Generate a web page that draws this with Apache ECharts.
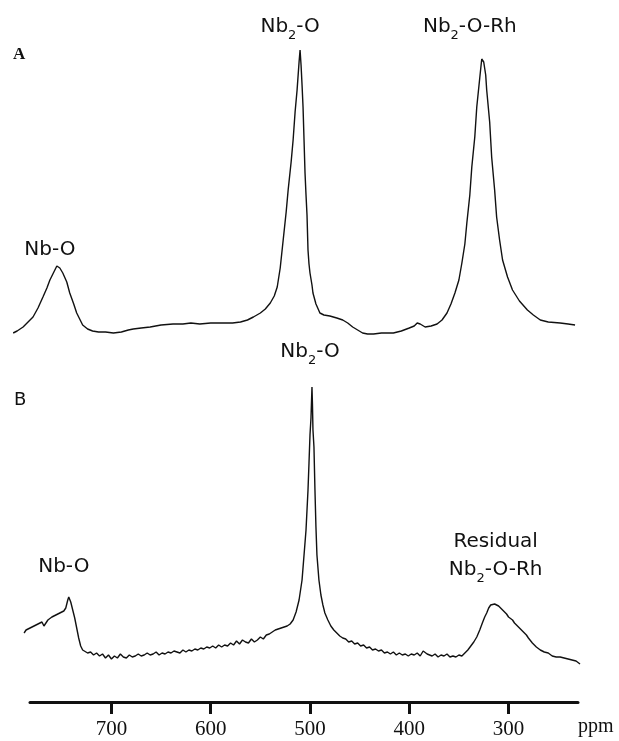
<!DOCTYPE html>
<html>
<head>
<meta charset="utf-8">
<style>
html,body{margin:0;padding:0;background:#fff;}
#main{width:619px;height:741px;}
</style>
</head>
<body>
<div id="main"></div>
<script src="https://cdn.jsdelivr.net/npm/echarts@6/dist/echarts.min.js"></script>
<script>
// ppm scale (reversed, high ppm on the left)
var ppm_min = 230;
var ppm_max = 782;
// the spectra run a little past the axis on both sides
var spec_min = 226;
var spec_max = 804.2;
var ppm_ticks = [300, 400, 500, 600, 700];

// spectrum A: [ppm, intensity]
var spec_A = [
    [799,7],[795,9],[789,13],[784,18],[779,23],[774,32],[769,43],[765,52],[762,60],[758,68],[755,74],[752,72],
    [749,67],[745,58],[742,47],[738,36],[735,27],[731,19],[729,15],[724,11],[719,9],[713,8],[706,8],[698,7],
    [690,8],[683,10],[678,11],[670,12],[661,13],[650,15],[638,16],[628,16],[620,17],[611,16],[600,17],[590,17],
    [578,17],[570,18],[563,20],[557,23],[550,27],[545,31],[540,37],[536,44],[533,53],[530,72],[527,100],
    [524,128],[522,150],[519,178],[517,200],[515,228],[513,250],[511,278],[510,290],[509,275],[508,255],
    [507,233],[506,200],[505,167],[504,145],[503,125],[502,90],[501,76],[500,67],[498,55],[497,47],[494,36],
    [490,27],[486,25],[480,24],[473,22],[467,20],[462,17],[457,13],[452,10],[447,7],[442,6],[436,6],[428,7],
    [416,7],[408,9],[400,12],[395,14],[392,17],[389,16],[384,13],[378,14],[372,16],[367,20],[362,27],
    [358,36],[354,47],[350,60],[347,77],[344,96],[342,117],[339,145],[337,173],[334,203],[332,233],[329,262],
    [327,281],[325,278],[323,265],[322,250],[319,218],[317,183],[314,150],[312,123],[309,100],[306,80],
    [301,63],[296,50],[289,39],[281,30],[275,25],[268,20],[260,18],[248,17],[240,16],[233,15]
];

// spectrum B: [ppm, intensity]
var spec_B = [
    [788,47],[786,50],[784,49],[782,52],[780,51],[778,54],[776,52],[774,56],[772,55],[770,58],[768,54],
    [766,57],[764,60],[762,58],[760,63],[758,61],[756,65],[754,63],[752,67],[750,65],[748,69],[746,72],
    [744,80],[743,83],[741,78],[739,70],[737,62],[735,52],[733,42],[731,34],[729,30],
    [727,29],[724,27],[721,28],[718,25],[715,27],[712,24],[709,26],[706,22],[703,25],[700,21],[697,24],
    [694,22],[691,26],[688,23],[685,22],[682,25],[679,23],[676,24],[673,26],[670,24],[667,25],[664,27],
    [661,25],[658,26],[655,28],[652,25],[649,27],[646,26],[643,28],[640,27],[637,29],[634,28],[631,27],
    [628,30],[625,28],[622,30],[619,29],[616,31],[613,30],[610,32],[607,31],[604,33],[601,32],[598,34],
    [595,32],[592,35],[589,33],[586,35],[583,34],[580,37],[577,35],[574,39],[571,36],[568,40],[565,38],
    [562,37],[559,41],[556,38],[553,40],[550,43],[547,41],[544,45],[541,46],[538,48],[535,50],[532,51],
    [529,52],[526,53],[523,54],[520,56],
    [517,60],[514,68],[511,80],[508,100],[506,125],[504,150],[502,190],[501,217],[500,245],[499,262],
    [498,293],[497.5,275],[497,250],[496,233],[495,190],[494,153],[493,125],[491,100],[489,85],[487,75],
    [485,67],[482,60],[479,54],[476,50],[473,47],[470,44],[467,42],[464,41],[461,38],[458,39],[455,36],
    [452,37],[449,34],[446,35],[443,32],[440,33],[437,30],[434,31],[431,29],[428,30],[425,27],[422,28],
    [419,26],[416,28],[413,25],[410,27],[407,25],[404,26],[401,24],[398,26],[395,25],[392,27],[389,24],
    [386,29],[384,30],[382,26],[380,27],[377,24],[374,26],[371,23],[368,25],[365,24],[362,26],[359,23],
    [356,24],[353,23],[350,25],[347,24],[344,27],[341,30],
    [338,34],[335,38],[332,43],[329,50],[326,58],[324,63],[322,67],[320,72],[318,75],[316,77],[314,76],
    [312,78],[310,74],[308,73],[306,70],[304,68],[302,66],[300,63],[298,62],[296,60],[294,57],[292,55],
    [290,53],[288,52],[286,49],[284,47],[282,45],[280,42],[278,40],[276,37],[274,36],[272,33],[270,31],
    [268,30],[266,29],[264,28],[262,26],[260,27],[258,25],[256,24],[254,25],[252,23],[250,22],[248,23],
    [246,21],[244,22],[242,20],[240,21],[238,19],[236,20],[234,18],[232,19],[230,17],[228,16]
];

// peak labels: [ppm, height, text]
var labels_A = [
    [793, 285, '{pa|A}'],
    [762, 90, '{n|Nb-O}'],
    [520, 313, '{n|Nb}{s|2}{n|-O}'],
    [339, 313, '{n|Nb}{s|2}{n|-O-Rh}']
];
var labels_B = [
    [792, 280, '{pb|B}'],
    [748, 113, '{n|Nb-O}'],
    [500, 328, '{n|Nb}{s|2}{n|-O}'],
    [313, 138, '{n|Residual}'],
    [313, 110, '{n|Nb}{s|2}{n|-O-Rh}'],
    [212, -47, '{u|ppm}']
];

var chart = echarts.init(document.getElementById('main'));

var rich = {
    n: {fontFamily: 'DejaVu Sans', fontSize: 20, color: '#111', lineHeight: 30},
    s: {fontFamily: 'DejaVu Sans', fontSize: 13, color: '#111', lineHeight: 14, verticalAlign: 'bottom'},
    pa: {fontFamily: 'Liberation Serif', fontSize: 17, fontWeight: 'bold', color: '#111'},
    pb: {fontFamily: 'DejaVu Sans', fontSize: 18, color: '#111'},
    u: {fontFamily: 'Liberation Serif', fontSize: 20, color: '#111'}
};

function hiddenX(idx) {
    return {gridIndex: idx, type: 'value', min: spec_min, max: spec_max, inverse: true, show: false};
}
function hiddenY(idx) {
    return {gridIndex: idx, type: 'value', min: 0, max: 340, show: false};
}
function labelSeries(idx, data) {
    return {
        type: 'scatter', xAxisIndex: idx, yAxisIndex: idx, data: data,
        symbolSize: 0, clip: false, silent: true,
        itemStyle: {opacity: 1},
        label: {
            show: true, position: 'inside', color: '#111', textBorderWidth: 0, opacity: 1,
            formatter: function (p) { return p.data[2]; },
            rich: rich
        }
    };
}
function lineSeries(idx, data) {
    return {
        type: 'line', xAxisIndex: idx, yAxisIndex: idx, data: data,
        showSymbol: false, clip: false, silent: true,
        lineStyle: {color: '#111', width: 1.4}
    };
}

var option = {
    animation: false,
    backgroundColor: '#fff',
    grid: [
        {left: 8, right: 37, top: 0, height: 340, outerBoundsMode: 'none'},
        {left: 8, right: 37, top: 340, height: 340, outerBoundsMode: 'none'},
        {left: 30, right: 41, top: 680, height: 22}
    ],
    xAxis: [
        hiddenX(0),
        hiddenX(1),
        {
            gridIndex: 2, type: 'value', min: ppm_min, max: ppm_max, inverse: true,
            axisLine: {show: true, onZero: false, lineStyle: {color: '#111', width: 3}},
            axisTick: {show: true, length: 12, lineStyle: {color: '#111', width: 3}, customValues: ppm_ticks},
            axisLabel: {fontFamily: 'Liberation Serif', fontSize: 21, color: '#111', margin: 17, customValues: ppm_ticks},
            splitLine: {show: false}
        }
    ],
    yAxis: [hiddenY(0), hiddenY(1), {gridIndex: 2, type: 'value', min: 0, max: 1, show: false}],
    series: [
        lineSeries(0, spec_A),
        lineSeries(1, spec_B),
        labelSeries(0, labels_A),
        labelSeries(1, labels_B)
    ]
};
chart.setOption(option);
</script>
</body>
</html>
